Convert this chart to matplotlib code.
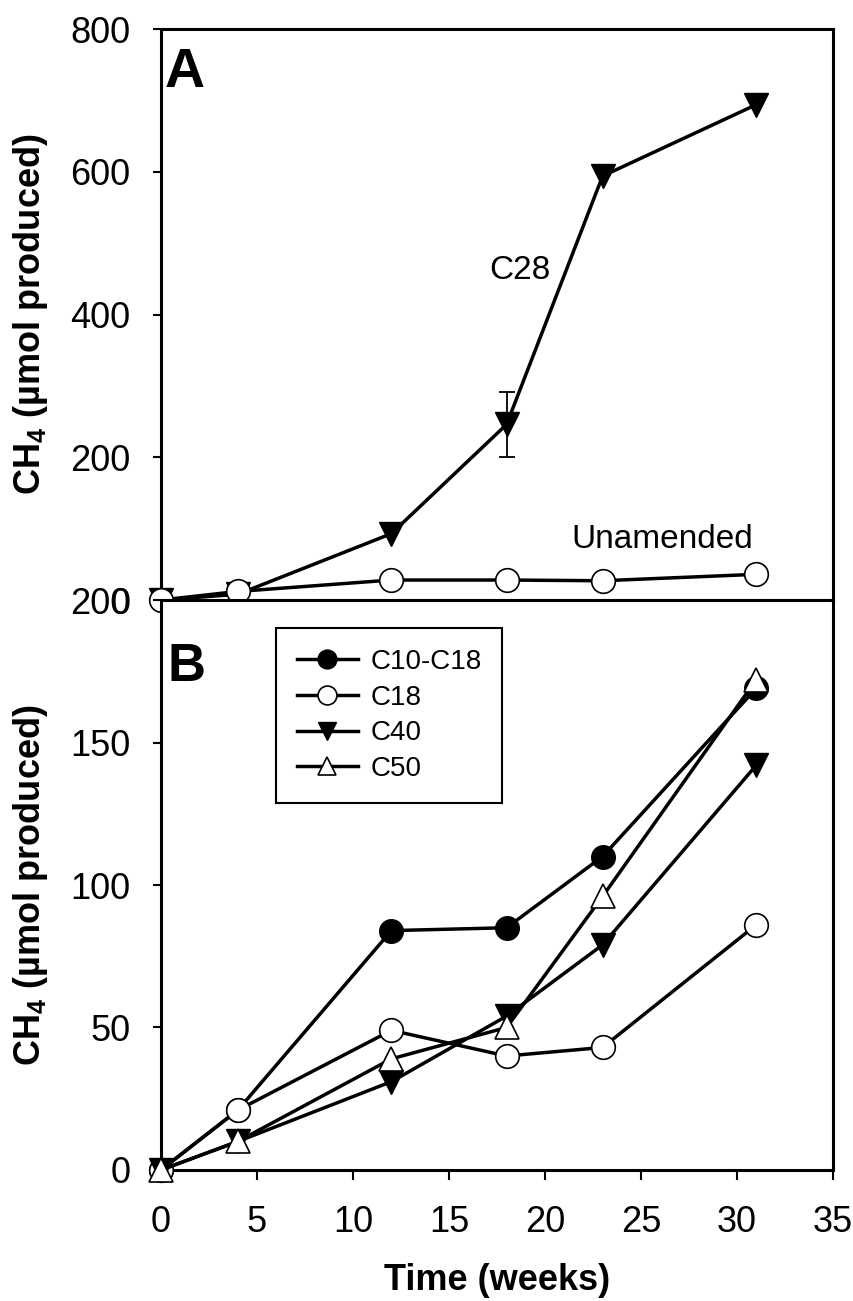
import matplotlib.pyplot as plt
import numpy as np

plt.rcParams['font.family'] = ['Liberation Sans', 'DejaVu Sans']
plt.rcParams['mathtext.fontset'] = 'custom'
plt.rcParams['mathtext.rm'] = 'Liberation Sans'
plt.rcParams['mathtext.bf'] = 'Liberation Sans:bold'

# time points (weeks)
weeks = [0, 4, 12, 18, 23, 31]

# panel A
c28 = [0, 8, 93, 246, 594, 694]
c28_err = [0, 0, 0, 46, 0, 0]
unamended = [0, 12, 28, 28, 27, 36]

# panel B
c10_c18 = [0, 21, 84, 85, 110, 169]
c18 = [0, 21, 49, 40, 43, 86]
c40 = [0, 10, 31, 54, 79, 142]
c50 = [0, 10, 39, 50, 96, 172]

a_ticks = [0, 200, 400, 600, 800]
b_ticks = [0, 50, 100, 150, 200]
x_ticks = [0, 5, 10, 15, 20, 25, 30, 35]

ylab = r'CH$_\mathbf{4}$ (µmol produced)'

fig = plt.figure(figsize=(8.54, 13.01), dpi=100)
axA = fig.add_axes([0.1885, 0.5388, 0.7869, 0.4389])
axB = fig.add_axes([0.1885, 0.1007, 0.7869, 0.4381])

for ax in (axA, axB):
    for s in ax.spines.values():
        s.set_linewidth(2.2)
    ax.set_xlim(0, 35)
    ax.tick_params(axis='y', direction='out', length=6, width=1.5, pad=16, labelsize=26)
    ax.set_ylabel(ylab, fontsize=26, fontweight='bold')
    ax.yaxis.set_label_coords(-0.165, 0.5)

# ---- panel A ----
axA.set_ylim(0, 800)
axA.set_yticks(a_ticks)
axA.tick_params(axis='x', bottom=False, labelbottom=False)

axA.plot(weeks, c28, '-v', color='black', ms=17, lw=2.5, clip_on=False, zorder=3)
idx = np.nonzero(c28_err)[0]
axA.errorbar(np.array(weeks)[idx], np.array(c28)[idx], yerr=np.array(c28_err)[idx],
             fmt='none', ecolor='black', elinewidth=1.3, capsize=6, capthick=1.3, zorder=2.9)
axA.plot(weeks, unamended, '-o', color='black', mfc='white', mec='black', mew=1.2,
         ms=17, lw=2.5, clip_on=False, zorder=4)

axA.text(17.1, 450, 'C28', fontsize=24)
axA.text(21.4, 73, 'Unamended', fontsize=24)
axA.text(0.006, 0.968, 'A', transform=axA.transAxes, fontsize=40, fontweight='bold',
         va='top', ha='left')

# ---- panel B ----
axB.set_ylim(0, 200)
axB.set_yticks(b_ticks)
axB.set_xticks(x_ticks)
axB.tick_params(axis='x', direction='out', length=7, width=1.5, pad=18, labelsize=26)

axB.plot(weeks, c10_c18, '-o', color='black', ms=17, lw=2.5, clip_on=False, zorder=3,
         label='C10-C18')
axB.plot(weeks, c18, '-o', color='black', mfc='white', mec='black', mew=1.2, ms=17,
         lw=2.5, clip_on=False, zorder=3, label='C18')
axB.plot(weeks, c40, '-v', color='black', ms=17, lw=2.5, clip_on=False, zorder=3,
         label='C40')
axB.plot(weeks, c50, '-^', color='black', mfc='white', mec='black', mew=1.2, ms=17,
         lw=2.5, clip_on=False, zorder=3, label='C50')

axB.text(0.01, 0.926, 'B', transform=axB.transAxes, fontsize=38, fontweight='bold',
         va='top', ha='left')

leg = axB.legend(loc='upper left', bbox_to_anchor=(0.171, 0.951), borderaxespad=0,
                 fontsize=20, frameon=True, fancybox=False, edgecolor='black',
                 framealpha=1, markerscale=0.8, handlelength=2.2, handletextpad=0.45,
                 labelspacing=0.35, borderpad=0.75)
leg.get_frame().set_linewidth(1.5)

axB.set_xlabel('Time (weeks)', fontsize=26, fontweight='bold')
axB.xaxis.set_label_coords(0.5, -0.163)

fig.savefig('out.png', dpi=100)
